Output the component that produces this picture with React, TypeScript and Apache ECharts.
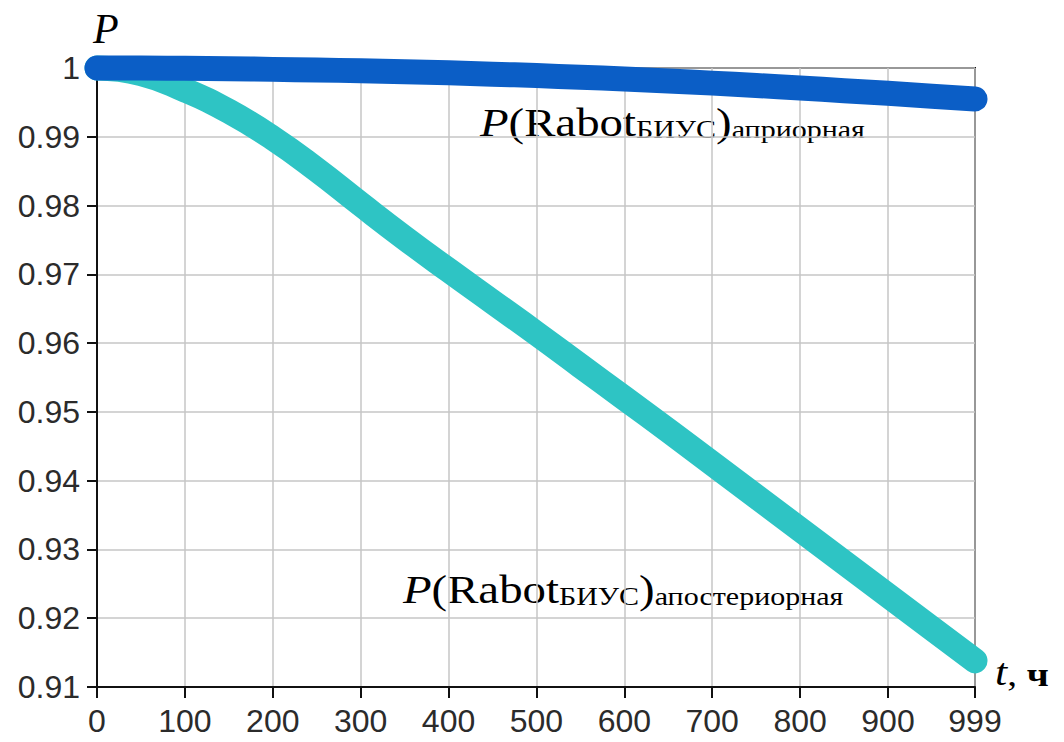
import React, { useEffect, useRef } from "react";
import * as echarts from "echarts";

const tValues = [0, 50, 100, 150, 200, 250, 300, 350, 400, 450, 500, 550, 600, 650, 700, 750, 800, 850, 900, 950, 999];
const pApriori = [1.0, 1.0, 0.99995, 0.9999, 0.9998, 0.9997, 0.9996, 0.99945, 0.9993, 0.9991, 0.9989, 0.99865, 0.9984, 0.9981, 0.9978, 0.99745, 0.9971, 0.9967, 0.99632, 0.9959, 0.9955];
const pAposteriori = [1.0, 0.9992, 0.9968, 0.9937, 0.9898, 0.9852, 0.9802, 0.9753, 0.9706, 0.966, 0.9614, 0.9567, 0.952, 0.9473, 0.9425, 0.9377, 0.9329, 0.9281, 0.9233, 0.9185, 0.9138];
const yTicks = [0.91, 0.92, 0.93, 0.94, 0.95, 0.96, 0.97, 0.98, 0.99, 1];
const xTicks = [0, 100, 200, 300, 400, 500, 600, 700, 800, 900, 999];

const serif = "'Liberation Serif', 'Times New Roman', serif";
const sans = "'Liberation Sans', Arial, sans-serif";

const rich = {
  it: { fontFamily: serif, fontStyle: "italic", fontSize: 39, lineHeight: 44, verticalAlign: "bottom", fill: "#000" },
  rm: { fontFamily: serif, fontSize: 39, lineHeight: 44, verticalAlign: "bottom", fill: "#000" },
  sub: { fontFamily: serif, fontSize: 25, lineHeight: 25, verticalAlign: "bottom", fill: "#000" },
  sub2: { fontFamily: serif, fontSize: 25, lineHeight: 25, verticalAlign: "bottom", fill: "#000" },
  big: { fontFamily: serif, fontSize: 34, lineHeight: 40, verticalAlign: "bottom", fill: "#000" },
  bigb: { fontFamily: serif, fontSize: 34, fontWeight: "bold", lineHeight: 40, verticalAlign: "bottom", fill: "#000" },
  bigi: { fontFamily: serif, fontStyle: "italic", fontSize: 38, lineHeight: 40, verticalAlign: "bottom", fill: "#000" },
};

export default function App() {
  const ref = useRef<HTMLDivElement>(null);
  useEffect(() => {
    if (!ref.current) return;
    const chart = echarts.init(ref.current, undefined, { renderer: "svg" });
    chart.setOption({
      animation: false,
      backgroundColor: "#fff",
      grid: { left: 97, right: 89, top: 68, bottom: 55, show: true, borderColor: "#111", borderWidth: 2, backgroundColor: "transparent" },
      xAxis: {
        type: "value",
        min: 0,
        max: 999,
        interval: 100,
        axisLine: { show: true, lineStyle: { color: "#111", width: 2 } },
        axisTick: { show: true, length: 11, lineStyle: { color: "#111", width: 2 } },
        splitLine: { show: true, lineStyle: { color: "#c6c6c6", width: 1.5 } },
        axisLabel: {
          margin: 18,
          fontSize: 32,
          fontFamily: sans,
          color: "#2b2b2b",
          showMaxLabel: true,
          formatter: (v: number) => (xTicks.includes(Math.round(v)) ? String(Math.round(v)) : ""),
        },
      },
      yAxis: {
        type: "value",
        min: 0.91,
        max: 1,
        interval: 0.01,
        axisLine: { show: true, lineStyle: { color: "#111", width: 2 } },
        axisTick: { show: true, length: 10, lineStyle: { color: "#111", width: 2 } },
        splitLine: { show: true, lineStyle: { color: "#c6c6c6", width: 1.5 } },
        axisLabel: {
          margin: 17,
          fontSize: 32,
          fontFamily: sans,
          color: "#2b2b2b",
          formatter: (v: number) => {
            const r = Number(v.toFixed(2));
            return yTicks.includes(r) ? String(r) : "";
          },
        },
      },
      series: [
        {
          type: "line",
          data: tValues.map((t, i) => [t, pAposteriori[i]]),
          showSymbol: false,
          smooth: 0.5,
          clip: false,
          lineStyle: { color: "#2ec4c4", width: 25, cap: "round", join: "round" },
          z: 2,
        },
        {
          type: "line",
          data: tValues.map((t, i) => [t, pApriori[i]]),
          showSymbol: false,
          smooth: 0.5,
          clip: false,
          lineStyle: { color: "#0b5ec6", width: 25, cap: "round", join: "round" },
          z: 3,
        },
      ],
      graphic: [
        {
          type: "text",
          x: 93,
          y: 29,
          style: { text: "P", fontFamily: serif, fontStyle: "italic", fontSize: 42, fill: "#000", verticalAlign: "middle", align: "left" },
        },
        {
          type: "text",
          x: 480,
          y: 142,
          scaleX: 1.2,
          style: { text: "{it|P}{rm|(Rabot}{sub|БИУС}{rm|)}{sub2|априорная}", rich, align: "left", verticalAlign: "bottom" },
        },
        {
          type: "text",
          x: 403,
          y: 609,
          scaleX: 1.2,
          style: { text: "{it|P}{rm|(Rabot}{sub|БИУС}{rm|)}{sub2|апостериорная}", rich, align: "left", verticalAlign: "bottom" },
        },
        {
          type: "text",
          x: 995,
          y: 691,
          scaleX: 1.15,
          style: { text: "{bigi|t}{big|, }{bigb|ч}", rich, align: "left", verticalAlign: "bottom" },
        },
      ],
    });
    return () => chart.dispose();
  }, []);
  return <div ref={ref} style={{ position: "fixed", left: 0, top: 0, width: 1064, height: 742 }} />;
}
